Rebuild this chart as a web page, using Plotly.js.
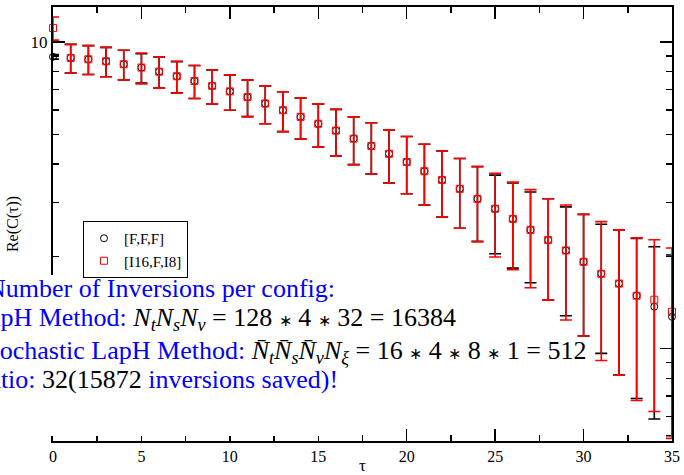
<!DOCTYPE html>
<html>
<head>
<meta charset="utf-8">
<script src="https://cdn.plot.ly/plotly-3.0.1.min.js"></script>
<style>html,body{margin:0;padding:0;background:#fff;}#chart{width:684px;height:475px;}</style>
</head>
<body>
<div id="chart"></div>
<script>
// tau values
const tau = [0,1,2,3,4,5,6,7,8,9,10,11,12,13,14,15,16,17,18,19,20,21,22,23,24,25,26,27,28,29,30,31,32,33,34,35];
// [F,F,F] series
const fffVal = [8.94,8.87,8.78,8.65,8.46,8.25,8.00,7.73,7.46,7.19,6.90,6.61,6.30,5.99,5.70,5.41,5.14,4.84,4.58,4.32,4.06,3.79,3.55,3.32,3.08,2.86,2.65,2.44,2.26,2.09,1.92,1.755,1.63,1.488,1.37,1.27];
const fffErr = [0.15,0.95,0.95,0.95,0.94,0.90,0.93,0.90,0.92,0.91,0.91,0.90,0.89,0.89,0.87,0.87,0.89,0.86,0.87,0.85,0.86,0.85,0.86,0.85,0.84,0.82,0.82,0.80,0.82,0.81,0.82,0.79,0.81,0.80,0.78,0.75];
// [I16,F,I8] series
const i16Val = [11.1,8.87,8.78,8.65,8.46,8.25,8.00,7.73,7.46,7.19,6.90,6.61,6.30,5.99,5.70,5.41,5.14,4.84,4.58,4.32,4.06,3.79,3.55,3.32,3.08,2.86,2.65,2.44,2.26,2.09,1.92,1.755,1.63,1.488,1.444,1.32];
const i16Err = [0.96,0.95,0.95,0.95,0.94,0.95,0.93,0.92,0.92,0.91,0.91,0.90,0.89,0.89,0.87,0.87,0.89,0.86,0.87,0.85,0.86,0.85,0.86,0.85,0.85,0.87,0.84,0.86,0.82,0.85,0.82,0.84,0.81,0.81,0.82,0.81];
// legend labels
const seriesNames = ['[F,F,F]', '[I16,F,I8]'];
// axis ticks
const xTicks = [0,5,10,15,20,25,30,35];
const yTicks = [1,10];
const yTickText = ['1','10'];
const yMinorTicks = [0.5,0.6,0.7,0.8,0.9,2,3,4,5,6,7,8,9];

const serif = 'Liberation Serif, Times New Roman, serif';
const W = 684, H = 475, L = 53, R = 672, T = 7, B = 441;
const px = x => (x - L) / (R - L);
const py = y => (B - y) / (B - T);

const traces = [
  {
    x: tau, y: fffVal, name: seriesNames[0], type: 'scatter', mode: 'markers',
    marker: {symbol: 'circle-open', size: 7, color: '#000', line: {width: 1, color: '#000'}},
    error_y: {type: 'data', array: fffErr, visible: true, color: '#000', thickness: 1.6, width: 6},
    cliponaxis: false
  },
  {
    x: tau, y: i16Val, name: seriesNames[1], type: 'scatter', mode: 'markers',
    marker: {symbol: 'square-open', size: 7, color: '#ff0000', line: {width: 1, color: '#ff0000'}},
    error_y: {type: 'data', array: i16Err, visible: true, color: '#ff0000', thickness: 1.6, width: 6},
    cliponaxis: false
  }
];

const blue = '#0000ff';
const k = s => '<span style="color:#000">' + s + '</span>';
const ast = '<span style="font-size:16px">∗</span>';
const lines = [
  {text: 'Number of Inversions per config:', x: -14, y: 288},
  {text: 'LapH Method: ' + k('<i>N</i><sub><i>t</i></sub><i>N</i><sub><i>s</i></sub><i>N</i><sub><i>v</i></sub> = 128 ' + ast + ' 4 ' + ast + ' 32 = 16384'), x: -28, y: 319},
  {text: 'Stochastic LapH Method: ' + k('<i>N\u0304</i><sub><i>t</i></sub><i>N\u0304</i><sub><i>s</i></sub><i>N\u0304</i><sub><i>v</i></sub><i>N</i><sub><i>ξ</i></sub> = 16 ' + ast + ' 4 ' + ast + ' 8 ' + ast + ' 1 = 512'), x: -23, y: 352},
  {text: 'Ratio: ' + k('32(15872') + ' inversions saved)!', x: -29, y: 379}
];

const layout = {
  width: W, height: H,
  margin: {l: L, r: W - R, t: T, b: H - B, pad: 0},
  paper_bgcolor: '#fff', plot_bgcolor: '#fff',
  showlegend: true,
  font: {family: serif, color: '#000', size: 16},
  xaxis: {
    range: [0, 35], tickmode: 'array', tickvals: xTicks,
    ticks: 'inside', ticklen: 12, tickwidth: 1.5, tickcolor: '#000',
    showline: true, linewidth: 2, linecolor: '#000', mirror: 'ticks',
    showgrid: false, zeroline: false,
    tickfont: {family: serif, size: 16, color: '#000'},
    minor: {dtick: 2.5, tick0: 0, ticks: 'inside', ticklen: 6, tickwidth: 1.5, tickcolor: '#000', showgrid: false},
    title: {text: 'τ', font: {family: serif, size: 17, color: '#000'}, standoff: 2},
    automargin: false
  },
  yaxis: {
    type: 'log', range: [Math.log10(0.5), Math.log10(13)],
    tickmode: 'array', tickvals: yTicks, ticktext: yTickText,
    ticks: 'inside', ticklen: 12, tickwidth: 1.5, tickcolor: '#000',
    showline: true, linewidth: 2, linecolor: '#000', mirror: 'ticks',
    showgrid: false, zeroline: false,
    tickfont: {family: serif, size: 17, color: '#000'},
    minor: {tickmode: 'array', tickvals: yMinorTicks, ticks: 'inside', ticklen: 6, tickwidth: 1.5, tickcolor: '#000', showgrid: false},
    title: {text: 'Re(C(τ))', font: {family: serif, size: 16, color: '#000'}, standoff: 8},
    automargin: false
  },
  legend: {
    x: px(83), y: py(221), xanchor: 'left', yanchor: 'top',
    bgcolor: '#fff', bordercolor: '#000', borderwidth: 1,
    font: {family: serif, size: 15, color: '#000'},
    tracegroupgap: 0, itemwidth: 30
  },
  shapes: [
    {type: 'rect', xref: 'paper', yref: 'paper', x0: px(-5), x1: px(340), y0: py(436), y1: py(275),
     fillcolor: '#fff', line: {width: 0}, layer: 'above'}
  ],
  annotations: lines.map(l => ({
    text: l.text, xref: 'paper', yref: 'paper', x: px(l.x), y: py(l.y),
    xanchor: 'left', yanchor: 'middle', showarrow: false, align: 'left',
    font: {family: serif, size: 26, color: blue}, borderpad: 0
  }))
};

Plotly.newPlot('chart', traces, layout, {displayModeBar: false, staticPlot: true});
</script>
</body>
</html>
